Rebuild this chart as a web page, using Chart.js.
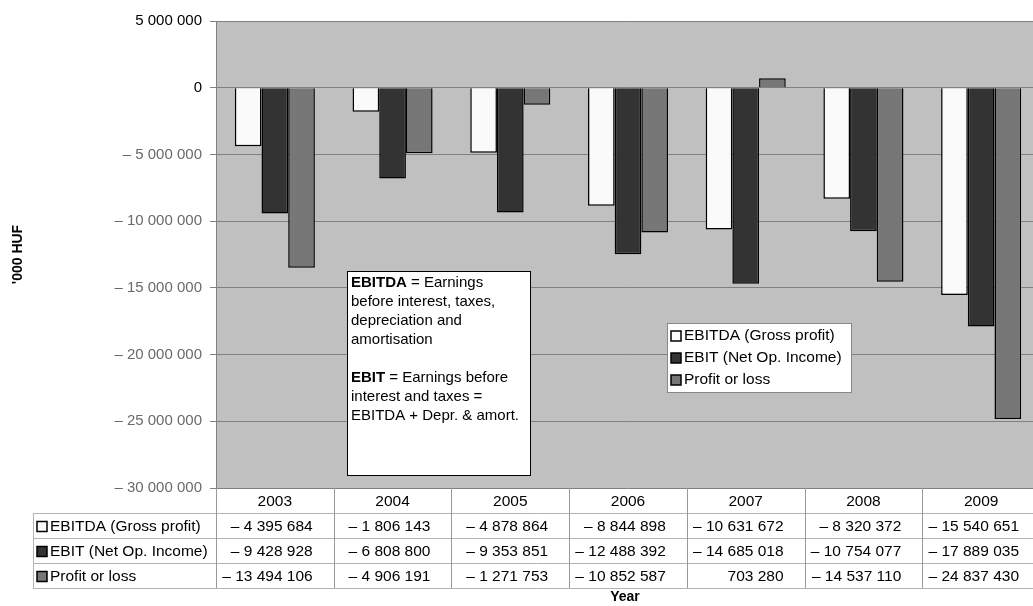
<!DOCTYPE html>
<html>
<head>
<meta charset="utf-8">
<script src="https://cdn.jsdelivr.net/npm/chart.js@4.4.1/dist/chart.umd.min.js"></script>
<style>
  html, body { margin: 0; padding: 0; background: #fff; overflow: hidden; }
  #wrap { width: 1040px; height: 606px; }
</style>
</head>
<body>
<div id="wrap"><canvas id="chart" width="1040" height="606"></canvas></div>
<script>
const years = ['2003', '2004', '2005', '2006', '2007', '2008', '2009'];
const ebitda = [-4395684, -1806143, -4878864, -8844898, -10631672, -8320372, -15540651];
const ebit = [-9428928, -6808800, -9353851, -12488392, -14685018, -10754077, -17889035];
const profit = [-13494106, -4906191, -1271753, -10852587, 703280, -14537110, -24837430];
const seriesNames = ['EBITDA (Gross profit)', 'EBIT (Net Op. Income)', 'Profit or loss'];
const seriesColors = ['#fafafa', '#333333', '#777777'];
const noteLines = [
  [['EBITDA', true], [' = Earnings', false]],
  [['before interest, taxes,', false]],
  [['depreciation and', false]],
  [['amortisation', false]],
  [],
  [['EBIT', true], [' = Earnings before', false]],
  [['interest and taxes =', false]],
  [['EBITDA + Depr. & amort.', false]]
];

const FONT = '"Liberation Sans", Arial, sans-serif';

function fmt(v) {
  let s = Math.abs(v).toString().replace(/\B(?=(\d{3})+(?!\d))/g, ' ');
  return v < 0 ? '\u2013 ' + s : s;
}

const extras = {
  id: 'extras',
  beforeDraw(chart) {
    const a = chart.chartArea, c = chart.ctx;
    c.save();
    c.fillStyle = '#c0c0c0';
    c.fillRect(a.left, a.top, a.right - a.left, a.bottom - a.top);
    c.restore();
  },
  afterDraw(chart) {
    const a = chart.chartArea, c = chart.ctx, x = chart.scales.x;
    const colW = (a.right - a.left) / years.length;
    c.save();

    // data table under the plot
    const rowTop = a.bottom, rowH = 25;
    const tabLeft = 33;
    c.strokeStyle = '#b4b4b4';
    c.lineWidth = 1;
    for (let r = 1; r <= 4; r++) {
      const y = Math.round(rowTop + r * rowH) + 0.5;
      c.beginPath();
      c.moveTo(tabLeft, y);
      c.lineTo(a.right, y);
      c.stroke();
    }
    c.beginPath();
    c.moveTo(tabLeft + 0.5, rowTop + rowH);
    c.lineTo(tabLeft + 0.5, rowTop + 4 * rowH);
    c.stroke();
    c.strokeStyle = '#999';
    for (let i = 0; i <= years.length; i++) {
      const xx = Math.round(a.left + i * colW) + 0.5;
      c.beginPath();
      c.moveTo(xx, rowTop);
      c.lineTo(xx, rowTop + 4 * rowH);
      c.stroke();
    }
    c.font = '15.5px ' + FONT;
    c.fillStyle = '#000';
    c.textBaseline = 'middle';
    c.textAlign = 'center';
    years.forEach((yr, i) => {
      c.fillText(yr, x.getPixelForValue(i), rowTop + rowH / 2 + 1);
    });
    const rows = [ebitda, ebit, profit];
    rows.forEach((vals, r) => {
      const cy = rowTop + (r + 1) * rowH + rowH / 2 + 1;
      c.fillStyle = seriesColors[r];
      c.fillRect(37, cy - 5, 10, 10);
      c.strokeStyle = '#000';
      c.lineWidth = 1.5;
      c.strokeRect(37, cy - 5, 10, 10);
      c.fillStyle = '#000';
      c.textAlign = 'left';
      c.fillText(seriesNames[r], 50, cy);
      c.textAlign = 'right';
      vals.forEach((v, i) => {
        c.fillText(fmt(v), a.left + (i + 1) * colW - 21, cy);
      });
    });

    // axis titles
    c.font = 'bold 14px ' + FONT;
    c.textAlign = 'center';
    c.fillText('Year', (a.left + a.right) / 2 - 3, 597);
    c.save();
    c.translate(18, (a.top + a.bottom) / 2);
    c.rotate(-Math.PI / 2);
    c.fillText("'000 HUF", 0, 0);
    c.restore();

    // note box
    c.fillStyle = '#fff';
    c.fillRect(347, 271, 183, 204);
    c.strokeStyle = '#000';
    c.lineWidth = 1;
    c.strokeRect(347.5, 271.5, 183, 204);
    c.fillStyle = '#000';
    c.textAlign = 'left';
    noteLines.forEach((parts, i) => {
      let px = 351;
      const py = 283 + i * 19;
      parts.forEach(([txt, bold]) => {
        c.font = (bold ? 'bold ' : '') + '15px ' + FONT;
        c.fillText(txt, px, py);
        px += c.measureText(txt).width;
      });
    });

    // legend box
    c.fillStyle = '#fff';
    c.fillRect(667, 323, 184, 69);
    c.strokeStyle = '#888';
    c.strokeRect(667.5, 323.5, 184, 69);
    c.font = '15.5px ' + FONT;
    seriesNames.forEach((n, i) => {
      const cy = 336 + i * 22;
      c.fillStyle = seriesColors[i];
      c.fillRect(671, cy - 5, 10, 10);
      c.strokeStyle = '#000';
      c.lineWidth = 1.5;
      c.strokeRect(671, cy - 5, 10, 10);
      c.fillStyle = '#000';
      c.fillText(n, 684, cy);
    });

    c.restore();
  }
};

new Chart(document.getElementById('chart'), {
  type: 'bar',
  data: {
    labels: years,
    datasets: [
      { label: seriesNames[0], data: ebitda, backgroundColor: seriesColors[0] },
      { label: seriesNames[1], data: ebit, backgroundColor: seriesColors[1] },
      { label: seriesNames[2], data: profit, backgroundColor: seriesColors[2] }
    ]
  },
  options: {
    responsive: false,
    animation: false,
    devicePixelRatio: 1,
    layout: { padding: { top: 21, bottom: 118, left: 0, right: 0 } },
    datasets: {
      bar: {
        borderColor: '#000',
        borderWidth: 1.5,
        categoryPercentage: 0.68,
        barPercentage: 1
      }
    },
    plugins: {
      legend: { display: false },
      tooltip: { enabled: false }
    },
    scales: {
      x: { display: false },
      y: {
        min: -30000000,
        max: 5000000,
        afterFit(scale) { scale.width = 216; },
        border: { color: '#808080', width: 1 },
        grid: { color: '#808080', tickLength: 6, lineWidth: 1 },
        ticks: {
          stepSize: 5000000,
          padding: 8,
          font: { family: FONT, size: 15 },
          color: ctx => ctx.tick.value < 0 ? '#6a6a6a' : '#000',
          callback: v => fmt(v)
        }
      }
    }
  },
  plugins: [extras]
});
</script>
</body>
</html>
